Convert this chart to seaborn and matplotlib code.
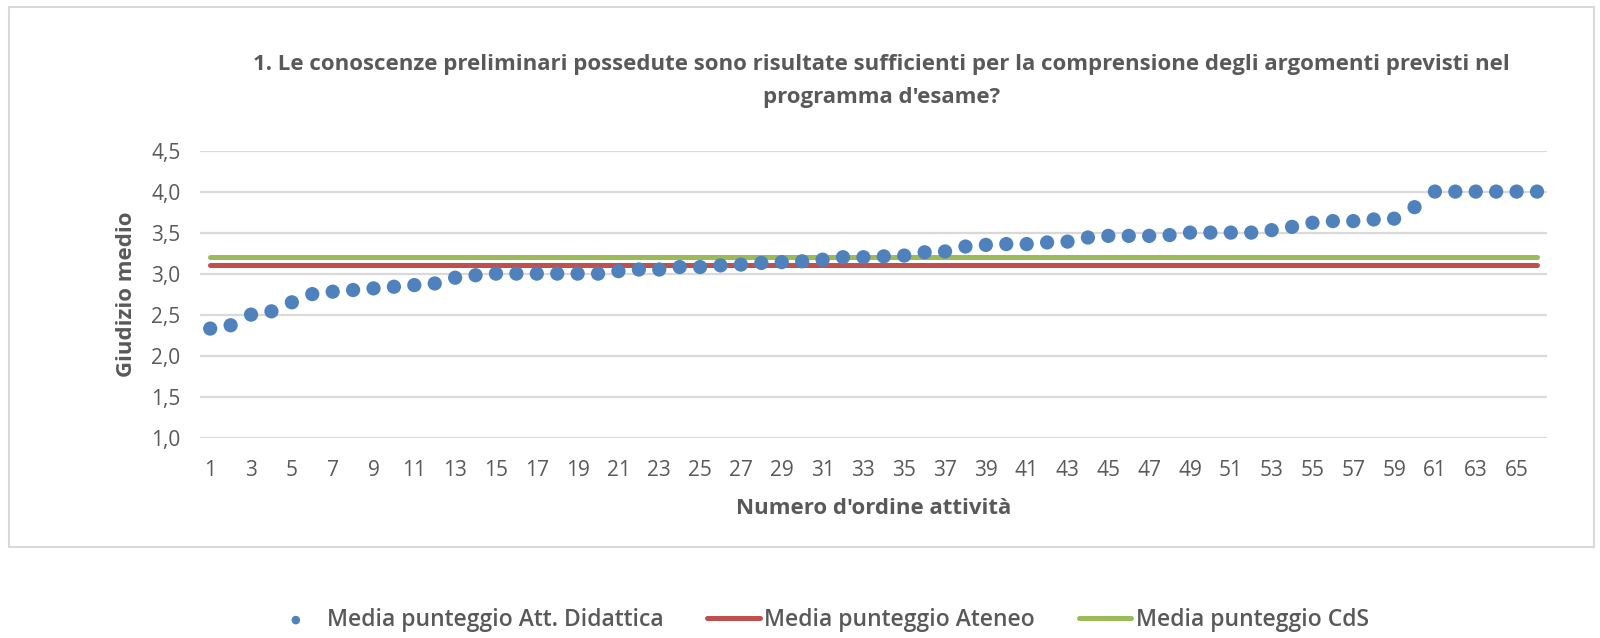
import numpy as np
import matplotlib
matplotlib.use("Agg")
import matplotlib.pyplot as plt
import pandas as pd
import seaborn as sns
from matplotlib.patches import Rectangle

# data
attivita = list(range(1, 67))
media_att = [2.33, 2.37, 2.50, 2.54, 2.65, 2.75, 2.78, 2.80, 2.82, 2.84,
             2.86, 2.88, 2.95, 2.98, 3.00, 3.00, 3.00, 3.00, 3.00, 3.00,
             3.03, 3.05, 3.05, 3.08, 3.08, 3.10, 3.11, 3.13, 3.14, 3.15,
             3.17, 3.20, 3.20, 3.21, 3.22, 3.26, 3.27, 3.33, 3.35, 3.36,
             3.36, 3.38, 3.39, 3.44, 3.46, 3.46, 3.46, 3.47, 3.50, 3.50,
             3.50, 3.50, 3.53, 3.57, 3.62, 3.64, 3.64, 3.66, 3.67, 3.81,
             4.00, 4.00, 4.00, 4.00, 4.00, 4.00]
media_ateneo = 3.10
media_cds = 3.20
y_ticks = [1.0, 1.5, 2.0, 2.5, 3.0, 3.5, 4.0, 4.5]
x_ticks = list(range(1, 67, 2))

titolo = ("1. Le conoscenze preliminari possedute sono risultate sufficienti per la "
          "comprensione degli argomenti previsti nel\nprogramma d'esame?")

df = pd.DataFrame({"att": attivita, "media": media_att})
df["ateneo"] = media_ateneo
df["cds"] = media_cds

sns.set_style("white")
plt.rcParams["font.family"] = ["Open Sans", "DejaVu Sans"]

TXT = "#595959"
BLUE = "#4F81BD"
RED = "#C0504D"
GREEN = "#9BBB59"

fig = plt.figure(figsize=(16, 6.38), dpi=100)
ax = fig.add_axes([0.125, 0.314, 0.842, 0.450])

sns.lineplot(data=df, x="att", y="ateneo", ax=ax, color=RED, linewidth=3.6,
             solid_capstyle="round", label="Media punteggio Ateneo", zorder=2)
sns.lineplot(data=df, x="att", y="cds", ax=ax, color=GREEN, linewidth=3.6,
             solid_capstyle="round", label="Media punteggio CdS", zorder=2)
sns.scatterplot(data=df, x="att", y="media", ax=ax, color=BLUE, s=105,
                edgecolor="none", label="Media punteggio Att. Didattica", zorder=3)

ax.set_xlim(0.5, 66.5)
ax.set_ylim(1.0, 4.5)
ax.set_yticks(y_ticks)
ax.set_yticklabels([f"{v:.1f}".replace(".", ",") for v in y_ticks])
ax.set_xticks(x_ticks)
ax.set_xticklabels([str(v) for v in x_ticks])
ax.grid(axis="y", color="#D9D9D9", linewidth=1.6)
ax.set_axisbelow(True)
for s in ax.spines.values():
    s.set_visible(False)
ax.tick_params(axis="both", length=0, labelsize=15, labelcolor=TXT)
ax.tick_params(axis="x", pad=16)
ax.tick_params(axis="y", pad=14)

ax.set_xlabel("Numero d'ordine attività", fontsize=16, fontweight="bold",
              color=TXT, labelpad=12)
ax.set_ylabel("Giudizio medio", fontsize=16, fontweight="bold", color=TXT,
              labelpad=10)

fig.text(0.551, 0.873, titolo, ha="center", va="center", fontsize=16,
         fontweight="bold", color=TXT, linespacing=1.75)

# chart border
fig.patches.append(Rectangle((0.0056, 0.1426), 0.9906, 0.8464,
                             transform=fig.transFigure, fill=False,
                             edgecolor="#D9D9D9", linewidth=1.5))

# legend under the chart box, same order as the reference
h, l = ax.get_legend_handles_labels()
order = [2, 0, 1]
ax.legend_.remove()
fig.legend([h[i] for i in order], [l[i] for i in order], loc="center",
           bbox_to_anchor=(0.512, 0.028), ncol=3, frameon=False,
           prop={"size": 16.5, "weight": "semibold"}, labelcolor=TXT,
           handlelength=2.3, columnspacing=1.9, handletextpad=0.2,
           markerscale=0.6)

fig.savefig("out.png", dpi=100)
